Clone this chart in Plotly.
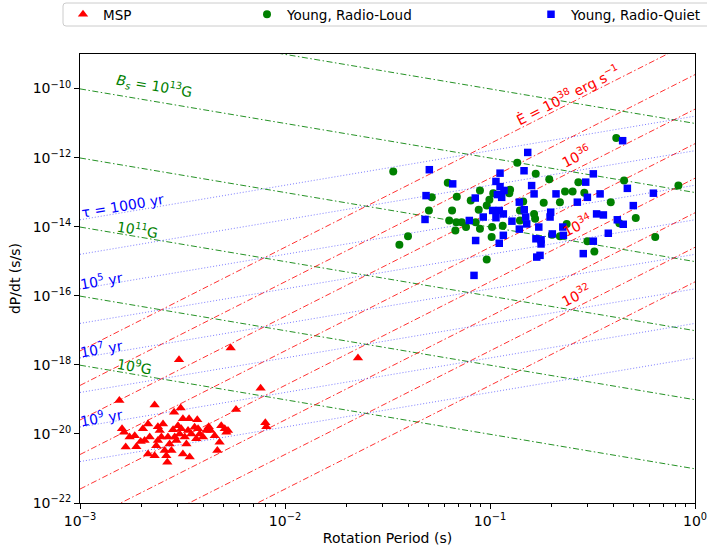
import numpy as np
import plotly.graph_objects as go

# ---------------- data (log10 of period [s] and period derivative [s/s]) -------------
msp_logP = [-2.265, -2.517, -1.644, -2.119, -2.808, -2.636, -2.239, -2.096, -2.091, -2.509,
            -2.541, -2.468, -2.428, -2.795, -2.785, -2.777, -2.758, -2.733, -2.725, -2.704,
            -2.693, -2.668, -2.660, -2.668, -2.636, -2.628, -2.620, -2.603, -2.595, -2.587,
            -2.579, -2.574, -2.563, -2.546, -2.538, -2.522, -2.514, -2.506, -2.498, -2.489,
            -2.481, -2.465, -2.457, -2.441, -2.433, -2.416, -2.400, -2.372, -2.363, -2.343,
            -2.330, -2.319, -2.311, -2.294, -2.286, -2.278, -2.498, -2.611, -2.571, -2.554,
            -2.530, -2.424, -2.685, -2.473, -2.384, -2.620]
msp_logPdot = [-17.51, -17.85, -17.80, -18.68, -19.03, -19.16, -19.29, -19.68, -19.79, -19.25,
               -19.37, -19.56, -19.59, -19.85, -19.95, -20.38, -20.09, -20.05, -20.37, -20.22,
               -19.85, -19.71, -20.09, -20.58, -20.63, -20.34, -19.79, -20.09, -19.71, -20.48,
               -20.63, -20.82, -20.29, -19.88, -20.09, -19.76, -20.00, -19.85, -20.58, -20.09,
               -20.29, -20.67, -20.00, -19.81, -20.14, -20.00, -20.09, -19.79, -19.90, -20.05,
               -20.48, -20.24, -19.76, -19.85, -19.95, -19.90, -19.56, -19.90, -20.09, -20.48,
               -20.19, -19.85, -20.19, -19.90, -19.90, -20.19]

loud_logP = [-1.472, -1.206, -0.867, -0.777, -0.711, -0.569, -0.384, -0.346, -0.081, -0.634,
             -0.597, -0.540, -0.411, -0.659, -0.738, -0.838, -0.902, -0.906, -0.984, -1.003,
             -1.049, -1.094, -1.162, -1.284, -1.298, -1.185, -1.055, -1.016, -1.199, -1.164,
             -1.138, -1.117, -1.169, -1.049, -0.990, -0.938, -0.854, -0.854, -0.785, -0.780,
             -0.626, -0.698, -0.659, -0.525, -0.491, -0.369, -0.289, -0.194, -1.400, -1.442,
             -0.992, -1.016, -1.070]
loud_logPdot = [-12.40, -12.73, -12.15, -12.47, -12.63, -12.71, -11.43, -12.66, -12.81, -12.98,
                -12.98, -13.02, -13.29, -13.29, -13.31, -13.27, -12.93, -13.03, -13.03, -13.22,
                -12.95, -13.24, -13.13, -13.15, -13.53, -13.53, -13.51, -13.39, -13.82, -13.87,
                -13.87, -14.01, -14.11, -14.06, -14.01, -13.97, -13.53, -13.82, -13.63, -13.77,
                -13.92, -14.23, -14.28, -14.42, -14.72, -13.90, -13.75, -14.30, -14.28, -14.52,
                -14.30, -14.95, -13.87]

quiet_logP = [-1.296, -0.816, -0.353, -0.834, -0.951, -0.971, -1.182, -0.951, -0.943, -0.964,
              -0.797, -0.785, -0.678, -0.533, -0.496, -0.330, -0.203, -0.463, -0.525, -0.574,
              -0.301, -0.480, -0.447, -0.379, -0.350, -0.423, -0.496, -0.545, -0.704, -0.707,
              -0.645, -0.642, -0.696, -0.762, -0.821, -0.857, -0.826, -0.833, -0.857, -0.893,
              -0.935, -0.955, -0.776, -0.751, -0.751, -0.772, -0.756, -1.070, -0.935, -0.955,
              -0.987, -0.971, -1.033, -1.101, -1.072, -1.312, -1.317, -1.078, -0.932]
quiet_logPdot = [-12.35, -11.85, -11.51, -12.38, -12.45, -12.69, -12.76, -12.84, -13.15, -13.07,
                 -12.81, -13.05, -13.05, -12.71, -12.47, -12.89, -13.03, -13.05, -13.15, -13.29,
                 -13.39, -13.63, -13.66, -13.80, -13.93, -14.19, -14.42, -14.78, -13.58, -13.72,
                 -14.01, -14.25, -14.21, -14.01, -13.92, -14.07, -13.72, -13.51, -13.29, -13.84,
                 -14.25, -14.48, -14.35, -14.38, -14.50, -14.88, -14.83, -14.40, -13.63, -13.53,
                 -13.53, -13.74, -13.72, -13.82, -13.17, -13.10, -13.79, -15.41, -12.95]

series_names = ["MSP", "Young, Radio-Loud", "Young, Radio-Quiet"]

# guide-line constants
B_fields = [1e9, 1e10, 1e11, 1e12, 1e13, 1e14]          # Gauss
Edots = [1e31, 1e32, 1e33, 1e34, 1e35, 1e36, 1e37, 1e38]  # erg/s
ages_yr = [1e3, 1e4, 1e5, 1e6, 1e7, 1e8, 1e9, 1e10]      # years

x_tickvals = [1e-3, 1e-2, 1e-1, 1e0]
x_ticktext = ["10<sup>−3</sup>", "10<sup>−2</sup>", "10<sup>−1</sup>", "10<sup>0</sup>"]
y_tickvals = [1e-22, 1e-20, 1e-18, 1e-16, 1e-14, 1e-12, 1e-10]
y_ticktext = ["10<sup>−22</sup>", "10<sup>−20</sup>", "10<sup>−18</sup>", "10<sup>−16</sup>",
              "10<sup>−14</sup>", "10<sup>−12</sup>", "10<sup>−10</sup>"]
x_minor = [m * d for d in (1e-3, 1e-2, 1e-1) for m in range(2, 10)]

# ---------------- physics of the guide lines ----------------
I_NS = 1e45
YEAR = 3.156e7


def pdot_B(P, B):
    return (B / 3.2e19) ** 2 / P


def pdot_E(P, E):
    return E * P ** 3 / (4 * np.pi ** 2 * I_NS)


def pdot_tau(P, t):
    return P / (2 * t * YEAR)


FONT = "DejaVu Sans"
P_line = np.array([1e-3, 1.0])

fig = go.Figure()

dashdot = "6px,2.5px,1.5px,2.5px"
for B in B_fields:
    fig.add_trace(go.Scatter(x=P_line, y=pdot_B(P_line, B), mode="lines",
                             line=dict(color="green", width=1, dash=dashdot),
                             opacity=0.85, showlegend=False, hoverinfo="skip"))
for E in Edots:
    fig.add_trace(go.Scatter(x=P_line, y=pdot_E(P_line, E), mode="lines",
                             line=dict(color="red", width=1, dash=dashdot),
                             opacity=0.8, showlegend=False, hoverinfo="skip"))
for t in ages_yr:
    fig.add_trace(go.Scatter(x=P_line, y=pdot_tau(P_line, t), mode="lines",
                             line=dict(color="blue", width=1, dash="1px,2px"),
                             opacity=0.5, showlegend=False, hoverinfo="skip"))

fig.add_trace(go.Scatter(x=10 ** np.array(msp_logP), y=10 ** np.array(msp_logPdot),
                         mode="markers", name=series_names[0], legend="legend",
                         marker=dict(symbol="triangle-up", size=9, color="red")))
fig.add_trace(go.Scatter(x=10 ** np.array(loud_logP), y=10 ** np.array(loud_logPdot),
                         mode="markers", name=series_names[1], legend="legend2",
                         marker=dict(symbol="circle", size=8, color="green")))
fig.add_trace(go.Scatter(x=10 ** np.array(quiet_logP), y=10 ** np.array(quiet_logPdot),
                         mode="markers", name=series_names[2], legend="legend3",
                         marker=dict(symbol="square", size=7.5, color="blue")))

# ---------------- labels on the guide lines ----------------
ang_B = 9.6
ang_E = 26.8
labels = [
    ("<i>B<sub>s</sub></i> = 10<sup>13</sup>G", -2.639, pdot_B(10 ** -2.639, 1e13), 15, ang_B, "green"),
    ("10<sup>11</sup>G", -2.720, pdot_B(10 ** -2.720, 1e11), 8, ang_B, "green"),
    ("10<sup>9</sup>G", -2.732, pdot_B(10 ** -2.732, 1e9), 8, ang_B, "green"),
    ("τ = 1000 yr", -2.795, pdot_tau(10 ** -2.795, 1e3), 7, -ang_B, "blue"),
    ("10<sup>5</sup> yr", -2.893, pdot_tau(10 ** -2.893, 1e5), 5, -ang_B, "blue"),
    ("10<sup>7</sup> yr", -2.893, pdot_tau(10 ** -2.893, 1e7), 6, -ang_B, "blue"),
    ("10<sup>9</sup> yr", -2.893, pdot_tau(10 ** -2.893, 1e9), 6, -ang_B, "blue"),
    ("Ė = 10<sup>38</sup> erg s<sup>−1</sup>", -0.624, pdot_E(10 ** -0.624, 1e38), 10, -ang_E, "red"),
    ("10<sup>36</sup>", -0.580, pdot_E(10 ** -0.580, 1e36), 13, -ang_E, "red"),
    ("10<sup>34</sup>", -0.576, pdot_E(10 ** -0.576, 1e34), 13, -ang_E, "red"),
    ("10<sup>32</sup>", -0.580, pdot_E(10 ** -0.580, 1e32), 12, -ang_E, "red"),
]
for text, lx, yv, shift, ang, col in labels:
    fig.add_annotation(x=lx, y=np.log10(yv), xref="x", yref="y", text=text, showarrow=False,
                       textangle=ang, yshift=shift, xanchor="center", yanchor="middle",
                       font=dict(family=FONT, size=14, color=col))

# ---------------- legend frame ----------------
W, H = 707, 554
ml, mr, mt, mb = 80, 12, 54, 51
pw, ph = W - ml - mr, H - mt - mb


def px2paper_x(px):
    return (px - ml) / pw


def py2paper_y(py):
    return 1 + (mt - py) / ph


x0, x1 = px2paper_x(63), px2paper_x(720)
y0, y1 = py2paper_y(26), py2paper_y(3)
rx, ry = 3 / pw, 3 / ph
path = (f"M {x0+rx},{y1} L {x1},{y1} L {x1},{y0} L {x0+rx},{y0} "
        f"Q {x0},{y0} {x0},{y0+ry} L {x0},{y1-ry} Q {x0},{y1} {x0+rx},{y1} Z")
fig.add_shape(type="path", path=path, xref="paper", yref="paper",
              line=dict(color="#cccccc", width=1), fillcolor="white", layer="below")

leg_common = dict(orientation="h", yanchor="middle", xanchor="left",
                  xref="container", yref="container",
                  bgcolor="rgba(0,0,0,0)", borderwidth=0,
                  font=dict(family=FONT, size=13.5, color="black"))
ly = (H - 14.5) / H

fig.update_layout(
    width=W, height=H,
    margin=dict(l=ml, r=mr, t=mt, b=mb, autoexpand=False),
    paper_bgcolor="white", plot_bgcolor="white",
    font=dict(family=FONT, size=14, color="black"),
    legend=dict(x=63 / W, y=ly, **leg_common),
    legend2=dict(x=247 / W, y=ly, **leg_common),
    legend3=dict(x=531 / W, y=ly, **leg_common),
    xaxis=dict(type="log", range=[-3, 0], showgrid=False, zeroline=False,
               showline=True, linecolor="black", linewidth=1, mirror=True,
               ticks="outside", ticklen=5, tickwidth=1, tickcolor="black",
               tickmode="array", tickvals=x_tickvals, ticktext=x_ticktext,
               tickfont=dict(family=FONT, size=14), ticklabeloverflow="allow",
               minor=dict(tickmode="array", tickvals=x_minor, ticks="outside",
                          ticklen=3, tickcolor="black", showgrid=False),
               title=dict(text="Rotation Period (s)", standoff=5,
                          font=dict(family=FONT, size=14))),
    yaxis=dict(type="log", range=[-22, -9], showgrid=False, zeroline=False,
               showline=True, linecolor="black", linewidth=1, mirror=True,
               ticks="outside", ticklen=5, tickwidth=1, tickcolor="black",
               tickmode="array", tickvals=y_tickvals, ticktext=y_ticktext,
               tickfont=dict(family=FONT, size=14),
               title=dict(text="dP/dt (s/s)", standoff=8,
                          font=dict(family=FONT, size=14))),
)

fig.write_html("out.html")
